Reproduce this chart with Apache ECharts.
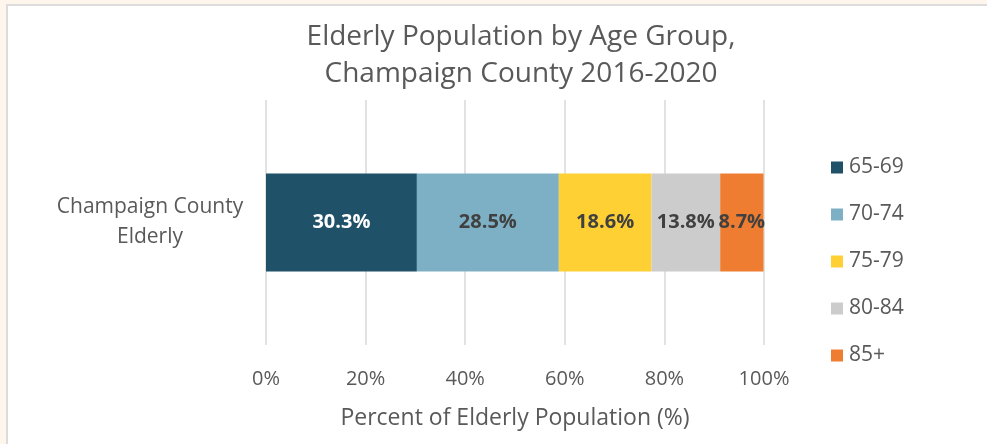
<!DOCTYPE html>
<html>
<head>
<meta charset="utf-8">
<script src="https://cdn.jsdelivr.net/npm/echarts@6/dist/echarts.min.js"></script>
<style>html,body{margin:0;padding:0;background:#fff;}#c{width:987px;height:444px;}</style>
</head>
<body>
<div id="c"></div>
<script>
const categories = ["Champaign County\nElderly"];
const seriesNames = ["65-69", "70-74", "75-79", "80-84", "85+"];
const v6569 = [30.3];
const v7074 = [28.5];
const v7579 = [18.6];
const v8084 = [13.8];
const v85p = [8.7];
const xTicks = [0, 20, 40, 60, 80, 100];

const values = [v6569, v7074, v7579, v8084, v85p];
const colors = ["#1f5168", "#7eb0c5", "#fed034", "#cccccc", "#ee7d31"];
const labelColors = ["#ffffff", "#404040", "#404040", "#404040", "#404040"];
const font = "'Open Sans', sans-serif";

const chart = echarts.init(document.getElementById('c'));
chart.setOption({
  backgroundColor: '#ffffff',
  animation: false,
  title: {
    text: "Elderly Population by Age Group,\nChampaign County 2016-2020",
    left: 516, top: 14, textAlign: 'center',
    textStyle: {fontFamily: font, fontSize: 28, fontWeight: 'normal', color: '#595959', lineHeight: 37}
  },
  legend: {
    orient: 'vertical', left: 826, top: 152, itemGap: 26,
    itemWidth: 12, itemHeight: 12, icon: 'rect',
    textStyle: {fontFamily: font, fontSize: 21, color: '#595959', lineHeight: 20, padding: [0,0,0,1]},
    data: seriesNames
  },
  grid: {left: 266, right: 223, top: 100, bottom: 99, containLabel: false},
  xAxis: {
    type: 'value', min: 0, max: 100, interval: 20,
    axisLine: {show: false}, axisTick: {show: false},
    splitLine: {lineStyle: {color: '#d9d9d9', width: 1.5}},
    axisLabel: {fontFamily: font, fontSize: 20, color: '#595959', margin: 24,
      formatter: v => xTicks.includes(v) ? v + '%' : ''},
    name: 'Percent of Elderly Population (%)', nameLocation: 'middle', nameGap: 62,
    nameTextStyle: {fontFamily: font, fontSize: 23, color: '#595959'}
  },
  yAxis: {
    type: 'category', data: categories,
    axisLine: {show: false}, axisTick: {show: false},
    axisLabel: {fontFamily: font, fontSize: 21, color: '#595959', margin: 116, lineHeight: 30, align: 'center'}
  },
  graphic: [
    {type: 'rect', shape: {x: 0, y: 0, width: 6, height: 444}, style: {fill: '#fef6ec'}, silent: true},
    {type: 'rect', shape: {x: 0, y: 0, width: 987, height: 4}, style: {fill: '#fef6ec'}, silent: true},
    {type: 'rect', shape: {x: 6, y: 4, width: 2, height: 440}, style: {fill: '#dcdcdc'}, silent: true},
    {type: 'rect', shape: {x: 6, y: 4, width: 981, height: 2}, style: {fill: '#dcdcdc'}, silent: true}
  ],
  series: seriesNames.map((n, i) => ({
    name: n, type: 'bar', stack: 'total', data: values[i],
    barWidth: 98,
    itemStyle: {color: colors[i]},
    label: {show: true, position: 'inside', formatter: p => p.value.toFixed(1) + '%',
      fontFamily: font, fontSize: 20, fontWeight: 'bold', color: labelColors[i]}
  }))
});
</script>
</body>
</html>
